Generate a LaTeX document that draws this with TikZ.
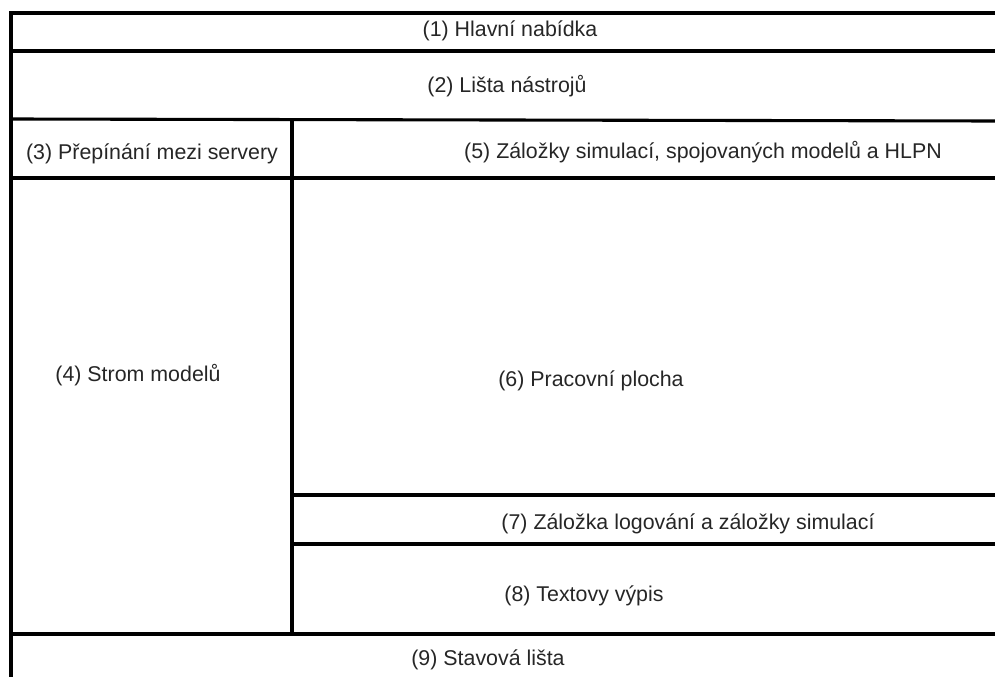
\documentclass[tikz,border=0pt]{standalone}
\usepackage{fontspec}
\setmainfont{Liberation Sans}
\usetikzlibrary{positioning}
\tikzset{
  frame/.style={
      line width=2.2pt,
      line cap=rect
    },
  label/.style={
      font=\fontsize{15.2}{17}\selectfont,
      text=black!85,
      inner sep=1pt
    }
}
\begin{document}
\begin{tikzpicture}[x=0.025cm, y=-0.025cm]
  \useasboundingbox (0,0) rectangle (995,677);
  % outer frame
  \draw[frame] (995,13) -- (11,13) -- (11,677);
  \draw[frame] (11,51) -- (995,51);
  \draw[frame] (11,119) -- (995,121);
  \draw[frame] (11,178) -- (995,178);
  \draw[frame] (11,634) -- (995,634);
  % right column
  \draw[frame] (292,120) -- (292,634);
  \draw[frame] (292,495) -- (995,495);
  \draw[frame] (292,544) -- (995,544);
  \node[label] (menu) at (510,31) {(1) Hlavní nabídka};
  \node[label] (tools) at (507,86) {(2) Lišta nástrojů};
  \node[label] (servers) at (152,154) {(3) Přepínání mezi servery};
  \node[label] (tree) at (138,375) {(4) Strom modelů};
  \node[label] (tabs) at (703,152) {(5) Záložky simulací, spojovaných modelů a HLPN};
  \node[label] (desk) at (591,381) {(6) Pracovní plocha};
  \node[label] (logtabs) at (688,524) {(7) Záložka logování a záložky simulací};
  \node[label] (output) at (584,596) {(8) Textovy výpis};
  \node[label] (status) at (488,660) {(9) Stavová lišta};
\end{tikzpicture}
\end{document}
